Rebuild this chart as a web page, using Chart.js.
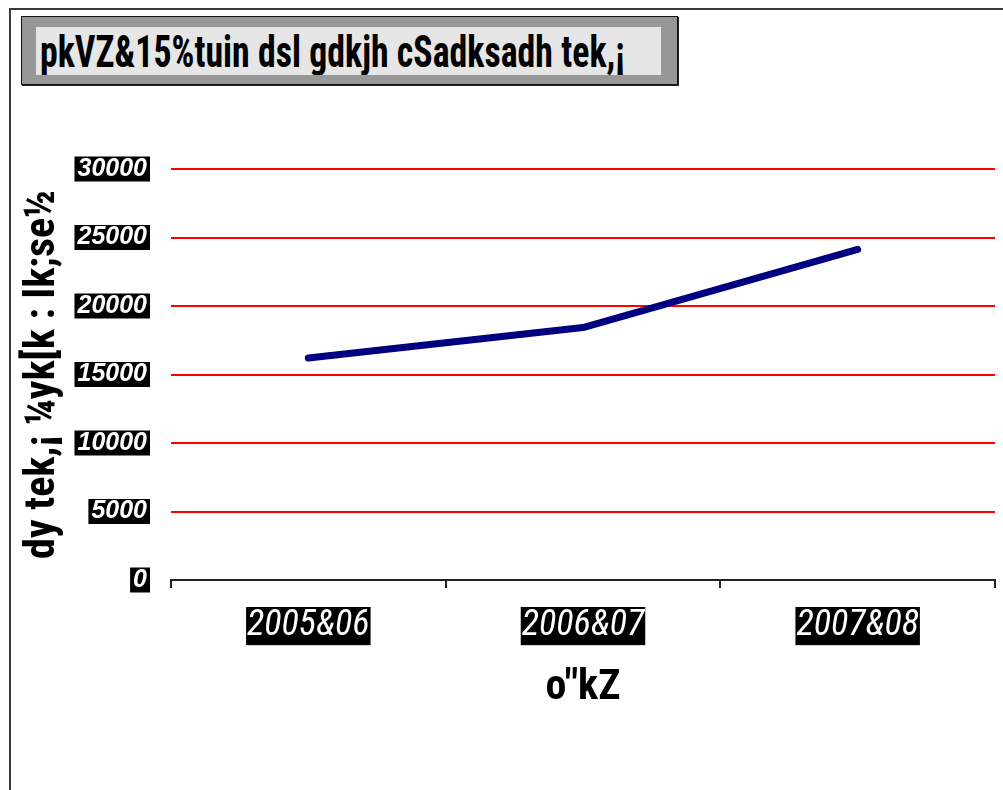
<!DOCTYPE html>
<html>
<head>
<meta charset="utf-8">
<script src="https://cdn.jsdelivr.net/npm/chart.js@4/dist/chart.umd.min.js"></script>
<style>
  html, body { margin: 0; padding: 0; background: #fff; width: 1003px; height: 790px; overflow: hidden; }
  #frame { position: absolute; left: 9px; top: 8px; width: 1100px; height: 900px;
           border-left: 2px solid #3c3c3c; border-top: 2px solid #3c3c3c; }
  #titleBox { position: absolute; left: 21px; top: 16px; width: 655px; height: 67px;
              background: #979797; border: 1px solid #111; box-shadow: 1px 1px 0 #222; }
  #titleInner { position: absolute; left: 14px; top: 10px; width: 625px; height: 48px; background: #e6e6e6;
                font-family: "Roboto Condensed", "Open Sans Condensed", sans-serif; font-weight: bold;
                font-size: 45px; line-height: 48px; color: #000; white-space: nowrap; overflow: hidden; }
  #titleInner span { position: absolute; left: 4px; top: 1px; transform-origin: 0 50%; display: inline-block; }
  #wrap { position: absolute; left: 0; top: 0; width: 1003px; height: 790px; }
</style>
</head>
<body>
<div id="frame"></div>
<div id="titleBox"><div id="titleInner"><span id="titleText">pkVZ&amp;15%tuin dsl gdkjh cSadksadh tek,¡</span></div></div>
<div id="wrap"><canvas id="c" width="1003" height="790"></canvas></div>
<script>
const categories = ["2005&06", "2006&07", "2007&08"];
const deposits = [16200, 18430, 24130];
const yTicks = [0, 5000, 10000, 15000, 20000, 25000, 30000];
const yTitle = "dy tek,¡ ¼yk[k : lk;se½";
const xTitle = "o\"kZ";

// fit title text width to the reference footprint
const tt = document.getElementById('titleText');
const w = tt.getBoundingClientRect().width;
tt.style.transform = 'scaleX(' + (585 / w) + ')';

const COND = '"Roboto Condensed", "Open Sans Condensed", sans-serif';
const ctx = document.getElementById('c').getContext('2d');
new Chart(ctx, {
  type: 'line',
  data: {
    labels: categories,
    datasets: [{
      data: deposits,
      borderColor: '#000080',
      borderWidth: 7,
      borderCapStyle: 'round',
      borderJoinStyle: 'round',
      pointRadius: 0,
      pointHoverRadius: 0,
      tension: 0,
      fill: false
    }]
  },
  options: {
    responsive: false,
    animation: false,
    events: [],
    layout: { padding: { left: 0, top: 169, right: 8, bottom: 0 } },
    plugins: { legend: { display: false }, tooltip: { enabled: false }, title: { display: false } },
    scales: {
      x: {
        type: 'category',
        offset: true,
        grid: { display: true, offset: true, drawOnChartArea: false, drawTicks: true, tickLength: 8, color: '#222', lineWidth: 2 },
        border: { display: true, color: '#222', width: 2 },
        ticks: {
          color: '#fff',
          font: { family: COND, style: 'italic', size: 36, lineHeight: 1.06 },
          padding: 19,
          maxRotation: 0, minRotation: 0, autoSkip: false,
          showLabelBackdrop: true,
          backdropColor: '#000',
          backdropPadding: { top: 0, bottom: 0, left: 1, right: 1 }
        },
        title: {
          display: true, text: xTitle, color: '#000',
          font: { family: COND, weight: 'bold', size: 42, lineHeight: 1 },
          padding: { top: 0, bottom: 81 }
        },
        afterFit: s => { s.height = 210; }
      },
      y: {
        min: 0, max: 30000,
        afterBuildTicks: s => { s.ticks = yTicks.map(v => ({ value: v })); },
        grid: {
          drawTicks: false,
          color: c => (c.tick && c.tick.value === 0) ? 'rgba(0,0,0,0)' : '#ff0000',
          lineWidth: 2
        },
        border: { display: false },
        ticks: {
          color: '#fff',
          font: { family: '"Liberation Sans", Arial, sans-serif', style: 'italic', weight: 'bold', size: 25, lineHeight: 1 },
          padding: 24,
          showLabelBackdrop: true,
          backdropColor: '#000',
          backdropPadding: { top: 0, bottom: 0, left: 3, right: 3 },
          callback: v => String(v)
        },
        title: {
          display: true, text: yTitle, color: '#000',
          font: { family: COND, weight: 'bold', size: 42, lineHeight: 1 },
          padding: { top: 22, bottom: 0 }
        },
        afterFit: s => { s.width = 171; }
      }
    }
  }
});
</script>
</body>
</html>
